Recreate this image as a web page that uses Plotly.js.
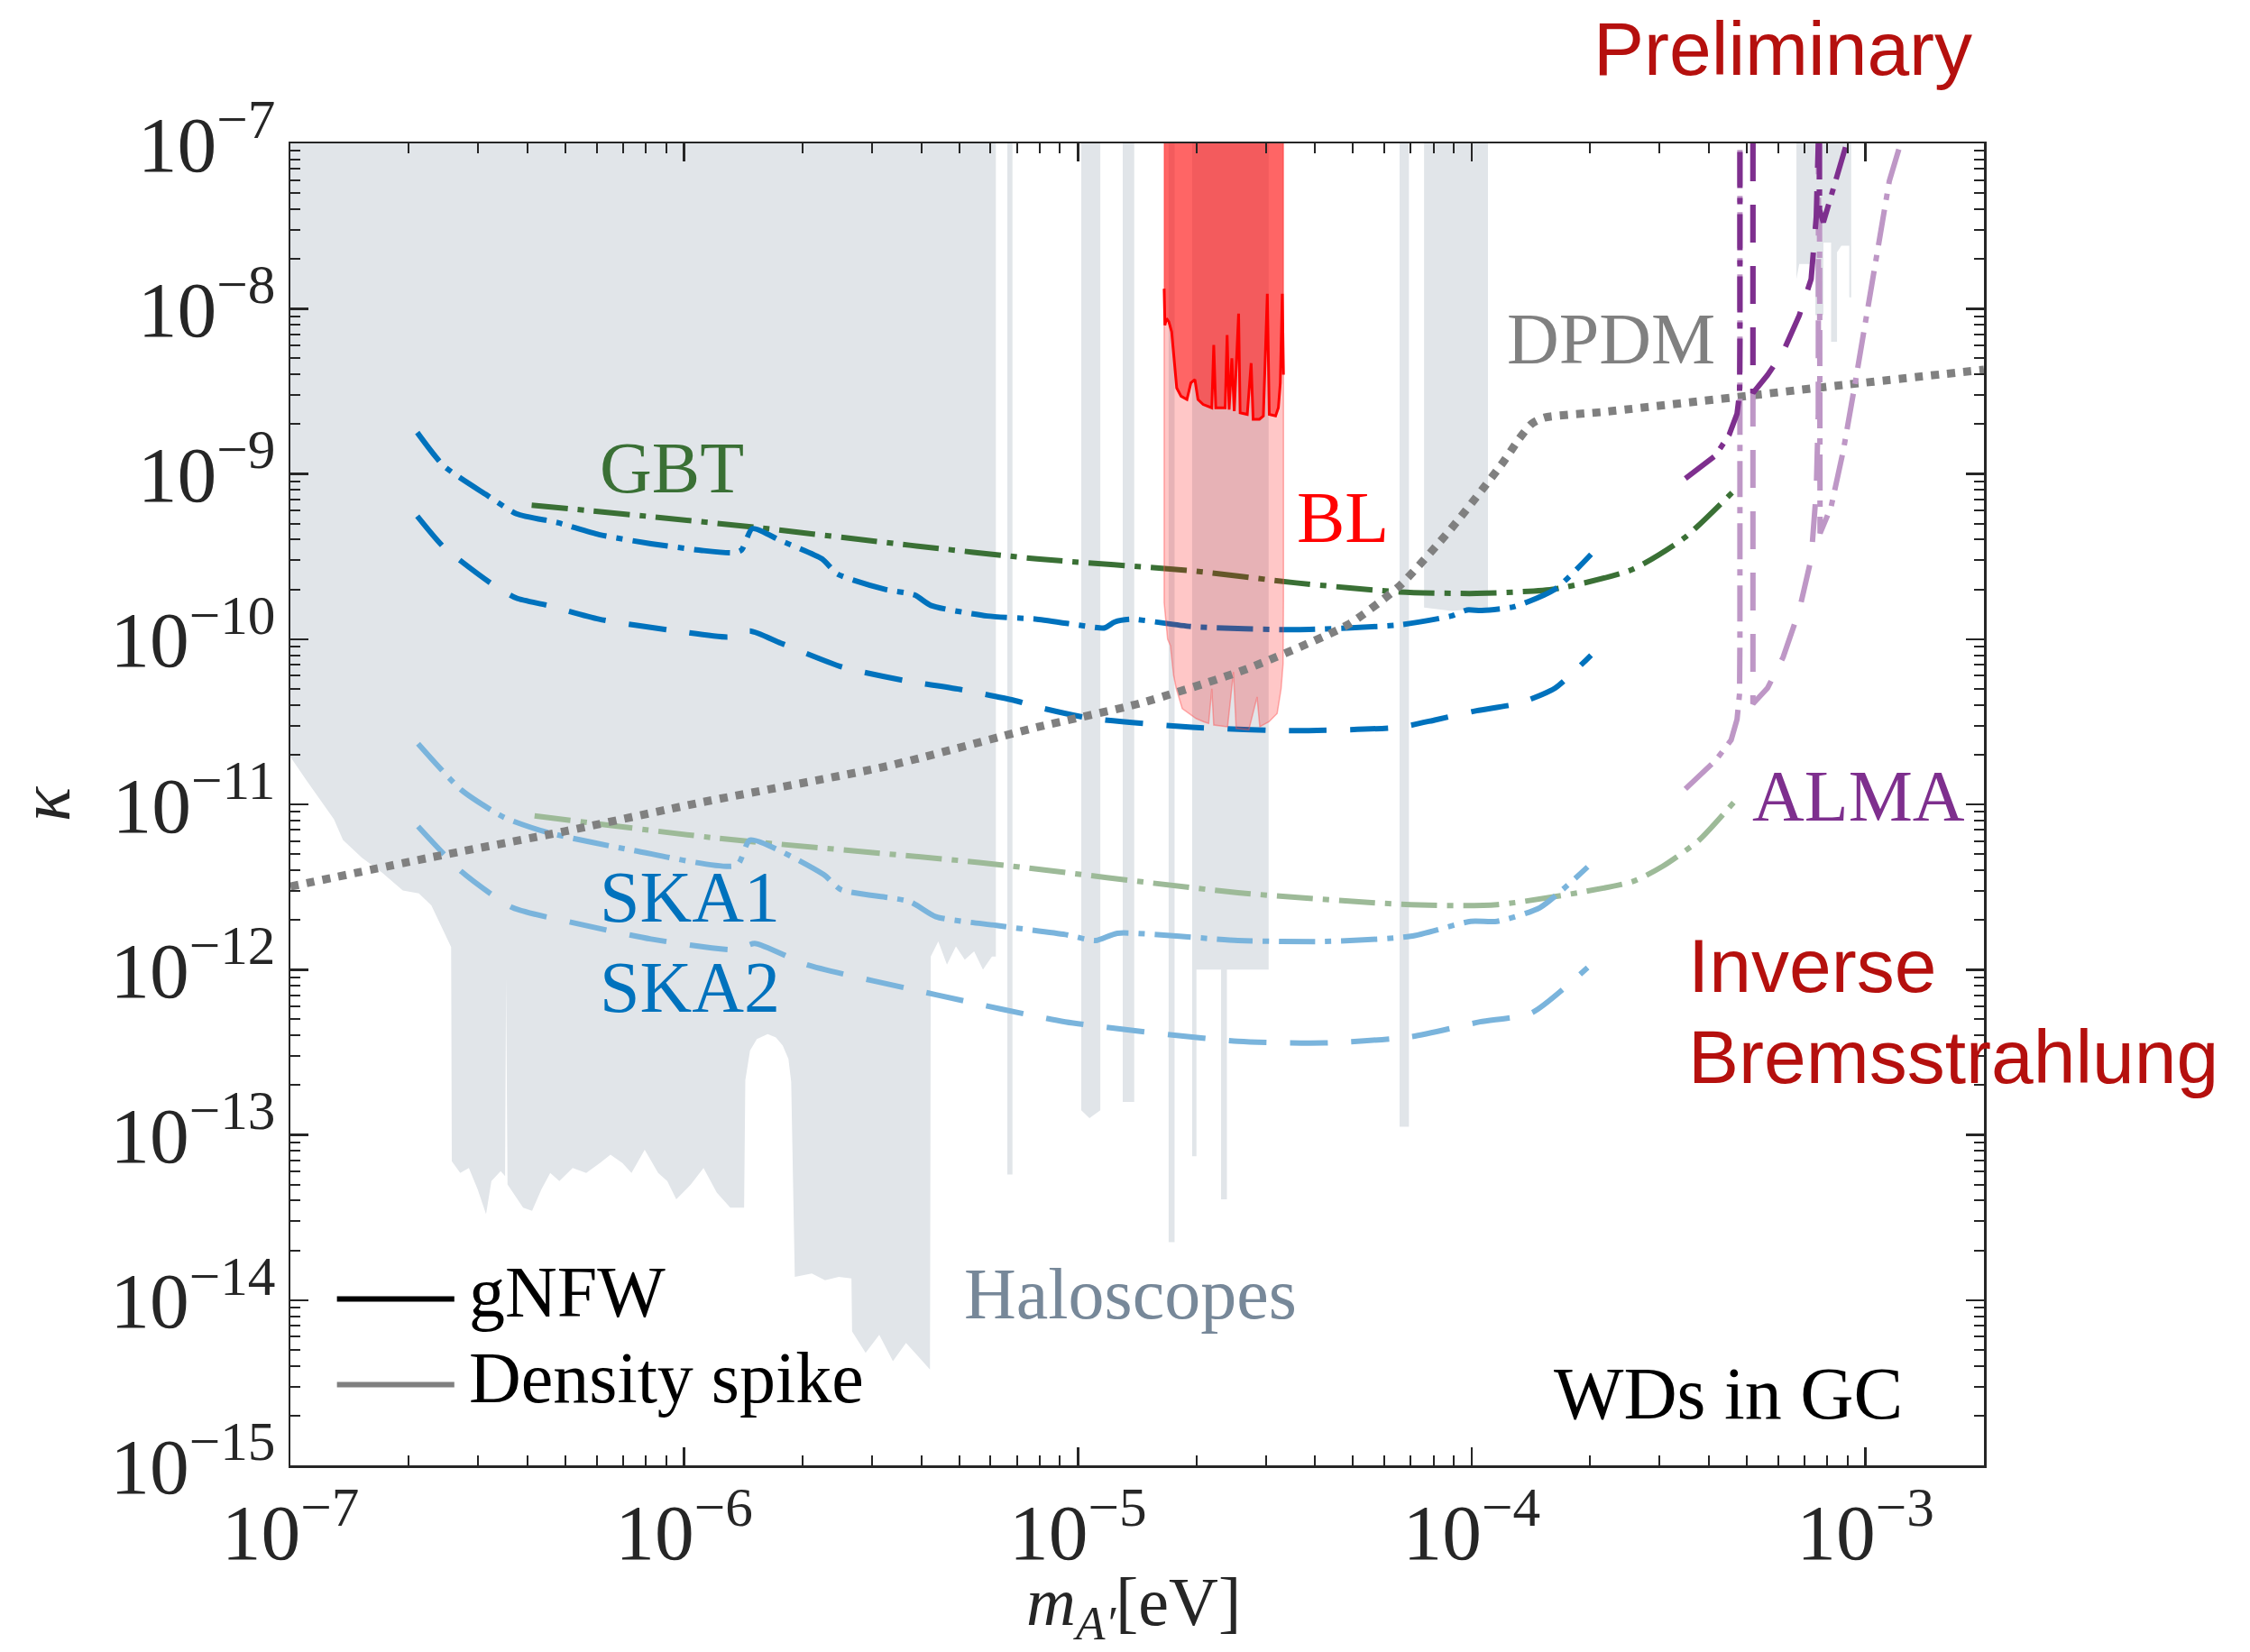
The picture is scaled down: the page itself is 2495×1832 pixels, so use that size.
<!DOCTYPE html>
<html><head><meta charset="utf-8">
<script src="https://cdn.plot.ly/plotly-3.0.1.min.js"></script>
<style>html,body{margin:0;padding:0;background:#fff;} #chart{width:2495px;height:1832px;}</style>
</head><body><div id="chart"></div>
<script>
// ---------------- DATA ----------------
// Haloscope exclusion: lower edge of the grey region (mass [eV], kappa)
const haloMass = [
  1e-7, 1e-7, 1.10e-7, 1.29e-7, 1.36e-7, 1.52e-7, 1.71e-7, 1.93e-7, 2.12e-7, 2.28e-7,
  2.56e-7, 2.57e-7, 2.70e-7, 2.84e-7, 2.99e-7, 3.14e-7, 3.24e-7, 3.42e-7, 3.51e-7, 3.53e-7,
  3.56e-7, 3.90e-7, 4.11e-7, 4.34e-7, 4.57e-7, 4.82e-7, 5.21e-7, 5.64e-7, 6.11e-7, 6.50e-7,
  6.97e-7, 7.35e-7, 7.94e-7, 8.59e-7, 9.06e-7, 9.55e-7, 1.04e-6, 1.12e-6, 1.21e-6, 1.31e-6,
  1.42e-6, 1.43e-6, 1.47e-6, 1.53e-6, 1.63e-6, 1.71e-6, 1.78e-6, 1.84e-6, 1.87e-6, 1.91e-6,
  2.11e-6, 2.28e-6, 2.47e-6, 2.66e-6, 2.67e-6, 2.89e-6, 3.13e-6, 3.39e-6, 3.66e-6, 3.97e-6,
  4.21e-6, 4.23e-6, 4.42e-6, 4.65e-6, 4.90e-6, 5.16e-6, 5.45e-6, 5.74e-6, 6.05e-6, 6.19e-6,
  6.19e-6, 6.62e-6, 6.62e-6, 6.82e-6, 6.82e-6, 1.02e-5, 1.02e-5, 1.07e-5, 1.14e-5, 1.14e-5,
  1.30e-5, 1.30e-5, 1.39e-5, 1.39e-5, 1.70e-5, 1.70e-5, 1.76e-5, 1.76e-5, 1.95e-5, 1.95e-5,
  2.00e-5, 2.00e-5, 2.31e-5, 2.31e-5, 2.39e-5, 2.39e-5, 3.05e-5, 3.05e-5, 6.56e-5, 6.56e-5,
  6.93e-5, 6.93e-5, 7.57e-5, 7.57e-5, 8.91e-5, 1.10e-4, 1.10e-4, 6.68e-4, 6.68e-4, 6.79e-4,
  7.46e-4, 7.46e-4, 7.82e-4, 7.82e-4, 8.18e-4, 8.18e-4, 8.47e-4, 8.47e-4, 8.69e-4, 9.10e-4,
  9.10e-4, 9.20e-4, 9.20e-4
];
const haloKappa = [
  1e-7, 1.94e-11, 1.39e-11, 8.13e-12, 6.08e-12, 4.75e-12, 3.86e-12, 3.01e-12, 2.89e-12, 2.45e-12,
  1.37e-12, 6.92e-14, 5.89e-14, 6.31e-14, 4.68e-14, 3.31e-14, 5.25e-14, 6.03e-14, 5.62e-14, 8.91e-13,
  5.01e-14, 3.63e-14, 3.47e-14, 4.68e-14, 5.89e-14, 5.25e-14, 6.31e-14, 5.89e-14, 6.76e-14, 7.59e-14,
  6.76e-14, 5.89e-14, 8.13e-14, 5.89e-14, 5.25e-14, 4.07e-14, 5.01e-14, 6.31e-14, 4.47e-14, 3.63e-14,
  3.63e-14, 2.14e-13, 3.24e-13, 3.80e-13, 4.07e-13, 3.89e-13, 3.47e-13, 2.88e-13, 2.09e-13, 1.38e-14,
  1.45e-14, 1.32e-14, 1.38e-14, 1.35e-14, 6.46e-15, 4.79e-15, 6.17e-15, 4.27e-15, 5.50e-15, 4.47e-15,
  3.80e-15, 1.20e-12, 1.48e-12, 1.07e-12, 1.38e-12, 1.15e-12, 1.29e-12, 1.00e-12, 1.20e-12, 1.20e-12,
  1e-7, 1e-7, 5.75e-14, 5.75e-14, 1e-7, 1e-7, 1.41e-13, 1.26e-13, 1.41e-13, 1e-7,
  1e-7, 1.58e-13, 1.58e-13, 1e-7, 1e-7, 2.24e-14, 2.24e-14, 1e-7, 1e-7, 7.41e-14,
  7.41e-14, 1e-12, 1e-12, 4.07e-14, 4.07e-14, 1e-12, 1e-12, 1e-7, 1e-7, 1.12e-13,
  1.12e-13, 1e-7, 1e-7, 1.55e-10, 1.48e-10, 1.55e-10, 1e-7, 1e-7, 1.51e-8, 1.86e-8,
  1.86e-8, 9.12e-9, 9.12e-9, 2.51e-8, 2.51e-8, 6.31e-9, 6.31e-9, 2.19e-8, 2.40e-8, 2.40e-8,
  1.17e-8, 1.17e-8, 1e-7
];

// BL: strong (dark red) lower edge and faint (pink) lower edge
const blEdgeMass = [1.656e-5, 1.663e-5, 1.679e-5, 1.702e-5, 1.730e-5, 1.754e-5, 1.782e-5, 1.828e-5, 1.892e-5, 1.936e-5,
  1.982e-5, 2.018e-5, 2.080e-5, 2.188e-5, 2.213e-5, 2.239e-5, 2.366e-5, 2.393e-5, 2.421e-5, 2.460e-5,
  2.495e-5, 2.559e-5, 2.582e-5, 2.692e-5, 2.754e-5, 2.786e-5, 2.891e-5, 2.958e-5, 3.027e-5, 3.062e-5,
  3.177e-5, 3.229e-5, 3.266e-5, 3.304e-5, 3.327e-5];
const blEdgeKappa = [1.32e-8, 7.94e-9, 8.71e-9, 8.32e-9, 7.24e-9, 5.25e-9, 3.31e-9, 2.95e-9, 2.82e-9, 3.55e-9,
  3.72e-9, 2.82e-9, 2.63e-9, 2.51e-9, 6.03e-9, 2.51e-9, 2.51e-9, 6.92e-9, 2.45e-9, 5.01e-9,
  2.40e-9, 9.33e-9, 2.34e-9, 2.29e-9, 4.68e-9, 2.14e-9, 2.14e-9, 2.24e-9, 1.23e-8, 2.29e-9,
  2.24e-9, 2.51e-9, 3.55e-9, 1.23e-8, 3.98e-9];
const blFaintMass = [1.656e-5, 1.690e-5, 1.718e-5, 1.750e-5, 1.778e-5, 1.841e-5, 1.910e-5, 1.995e-5, 2.089e-5, 2.148e-5,
  2.188e-5, 2.213e-5, 2.399e-5, 2.483e-5, 2.523e-5, 2.716e-5, 2.851e-5, 2.897e-5, 3.055e-5, 3.206e-5,
  3.281e-5, 3.319e-5, 3.327e-5];
const blFaintKappa = [1.66e-10, 1.0e-10, 9.12e-11, 6.03e-11, 5.01e-11, 3.80e-11, 3.55e-11, 3.31e-11, 3.16e-11, 3.09e-11,
  5.01e-11, 3.02e-11, 2.95e-11, 6.31e-11, 2.88e-11, 2.82e-11, 4.47e-11, 2.95e-11, 3.16e-11, 3.55e-11,
  5.01e-11, 7.08e-11, 1.70e-10];
const plotTopKappa = 1e-7;

// DPDM line
const dpdmMass = [1e-7, 2.22e-7, 4.98e-7, 1.11e-6, 3.27e-6, 7.87e-6, 1.44e-5, 2.64e-5, 4.84e-5, 6.56e-5,
  8.87e-5, 1.20e-4, 1.32e-4, 1.42e-4, 1.53e-4, 2.20e-4, 9.08e-4, 2.0e-3];
const dpdmKappa = [3.18e-12, 4.72e-12, 6.87e-12, 1.03e-11, 1.70e-11, 2.93e-11, 4.09e-11, 6.50e-11, 1.22e-10, 2.10e-10,
  4.66e-10, 1.17e-9, 1.63e-9, 2.01e-9, 2.19e-9, 2.38e-9, 3.48e-9, 4.27e-9];

// GBT
const gbtMass = [4.10e-7, 8.24e-7, 1.51e-6, 3.74e-6, 7.87e-6, 1.95e-5, 3.58e-5, 6.56e-5, 1.03e-4, 1.63e-4, 2.56e-4, 3.47e-4, 4.62e-4];
const gbtGnfw = [6.46e-10, 5.51e-10, 4.75e-10, 3.70e-10, 3.06e-10, 2.59e-10, 2.19e-10, 1.93e-10, 1.89e-10, 2.01e-10, 2.64e-10, 4.10e-10, 7.85e-10];
const gbtSpikeMass = [4.17e-7, 1.23e-6, 5.61e-6, 2.55e-5, 7.00e-5, 1.16e-4, 2.55e-4, 3.06e-4, 3.78e-4, 4.65e-4];
const gbtSpike = [8.51e-12, 6.22e-12, 4.45e-12, 2.92e-12, 2.47e-12, 2.47e-12, 3.40e-12, 4.23e-12, 6.07e-12, 1.04e-11];

// SKA1 (dash-dot)
const ska1Mass = [2.10e-7, 2.45e-7, 3.13e-7, 3.75e-7, 4.78e-7, 6.08e-7, 8.24e-7, 1.11e-6, 1.34e-6, 1.40e-6,
  1.49e-6, 1.76e-6, 2.24e-6, 2.45e-6, 3.21e-6, 3.85e-6, 4.23e-6, 5.89e-6, 7.87e-6, 1.07e-5,
  1.17e-5, 1.24e-5, 1.36e-5, 1.95e-5, 3.58e-5, 6.56e-5, 8.87e-5, 9.73e-5, 1.06e-4, 1.28e-4,
  1.63e-4, 2.01e-4];
const ska1Gnfw = [1.78e-9, 1.12e-9, 7.53e-10, 5.74e-10, 5.06e-10, 4.29e-10, 3.78e-10, 3.44e-10, 3.33e-10, 3.47e-10,
  4.66e-10, 3.94e-10, 3.06e-10, 2.48e-10, 2.01e-10, 1.85e-10, 1.60e-10, 1.38e-10, 1.32e-10, 1.19e-10,
  1.17e-10, 1.27e-10, 1.32e-10, 1.19e-10, 1.14e-10, 1.22e-10, 1.38e-10, 1.50e-10, 1.49e-10, 1.57e-10,
  2.01e-10, 3.26e-10];
const ska1SpikeMass = [2.11e-7, 2.72e-7, 3.49e-7, 4.50e-7, 7.45e-7, 1.36e-6, 1.47e-6, 2.26e-6, 2.50e-6, 3.74e-6,
  4.36e-6, 6.21e-6, 9.29e-6, 1.11e-5, 1.26e-5, 2.55e-5, 4.23e-5, 7.00e-5, 9.95e-5, 1.16e-4,
  1.49e-4, 1.97e-4];
const ska1Spike = [2.33e-11, 1.22e-11, 8.34e-12, 6.76e-12, 5.26e-12, 4.27e-12, 6.08e-12, 3.76e-12, 3.05e-12, 2.58e-12,
  2.09e-12, 1.85e-12, 1.63e-12, 1.50e-12, 1.66e-12, 1.50e-12, 1.48e-12, 1.59e-12, 1.96e-12, 1.96e-12,
  2.37e-12, 4.18e-12];

// SKA2 (dashed)
const ska2Mass = [2.10e-7, 2.45e-7, 3.22e-7, 3.75e-7, 4.50e-7, 6.08e-7, 9.29e-7, 1.30e-6, 1.47e-6, 1.76e-6,
  2.52e-6, 3.63e-6, 5.07e-6, 6.86e-6, 7.87e-6, 1.07e-5, 1.95e-5, 3.58e-5, 6.56e-5, 8.11e-5,
  1.03e-4, 1.32e-4, 1.63e-4, 2.01e-4];
const ska2Gnfw = [5.55e-10, 3.61e-10, 2.19e-10, 1.77e-10, 1.60e-10, 1.32e-10, 1.13e-10, 1.03e-10, 1.12e-10, 9.46e-11,
  6.78e-11, 5.61e-11, 4.94e-11, 4.27e-11, 3.89e-11, 3.32e-11, 2.93e-11, 2.79e-11, 2.93e-11, 3.25e-11,
  3.69e-11, 4.09e-11, 5.06e-11, 8.00e-11];
const ska2SpikeMass = [2.11e-7, 2.72e-7, 3.67e-7, 5.24e-7, 8.24e-7, 1.36e-6, 1.51e-6, 2.05e-6, 4.36e-6, 9.29e-6,
  2.55e-5, 4.23e-5, 7.00e-5, 1.05e-4, 1.42e-4, 1.97e-4];
const ska2Spike = [7.35e-12, 3.92e-12, 2.37e-12, 1.92e-12, 1.53e-12, 1.32e-12, 1.44e-12, 1.07e-12, 7.05e-13, 4.83e-13,
  3.68e-13, 3.60e-13, 3.92e-13, 4.83e-13, 5.47e-13, 1.03e-12];

// ALMA
const almaDDMassA = [3.49e-4, 4.16e-4, 4.51e-4, 4.72e-4, 4.79e-4, 4.80e-4, 4.80e-4];
const almaDDGnfwA = [9.38e-10, 1.29e-9, 1.73e-9, 2.31e-9, 3.08e-9, 6.31e-9, 1e-7];
const almaDDSpikeMassA = [3.49e-4, 4.16e-4, 4.56e-4, 4.72e-4, 4.79e-4, 4.80e-4, 4.80e-4];
const almaDDSpikeA = [1.24e-11, 1.84e-11, 2.45e-11, 3.27e-11, 4.69e-11, 1.0e-10, 1e-7];
const almaDDMassB = [7.64e-4, 7.64e-4, 7.82e-4, 8.18e-4, 8.59e-4, 8.90e-4];
const almaDDGnfwB = [1e-7, 3.98e-8, 3.33e-8, 4.79e-8, 6.85e-8, 9.48e-8];
const almaDDSpikeMassB = [7.64e-4, 7.64e-4, 7.67e-4, 8.18e-4, 8.79e-4, 9.42e-4, 1.01e-3, 1.08e-3, 1.15e-3, 1.22e-3];
const almaDDSpikeB = [1e-7, 5.01e-10, 4.37e-10, 6.30e-10, 1.39e-9, 3.56e-9, 9.77e-9, 2.49e-8, 5.93e-8, 9.48e-8];
const almaDashMass = [5.18e-4, 5.18e-4, 5.64e-4, 6.18e-4, 6.79e-4, 7.28e-4, 7.50e-4, 7.59e-4];
const almaDashGnfw = [1e-7, 3.08e-9, 3.96e-9, 5.48e-9, 9.08e-9, 1.51e-8, 3.58e-8, 1e-7];
const almaDashSpikeMass = [5.18e-4, 5.18e-4, 5.64e-4, 6.18e-4, 6.79e-4, 7.28e-4, 7.50e-4, 7.59e-4, 7.60e-4];
const almaDashSpike = [1e-7, 4.06e-11, 5.05e-11, 7.78e-11, 1.49e-10, 3.06e-10, 7.82e-10, 2.31e-9, 1e-7];

// ---------------- STYLE ----------------
const BLUE = '#0072BD', BLUE_L = '#7ab4dc';
const GREEN = '#3a7035', GREEN_L = '#9dba98';
const PURPLE = '#7E2F8E', PURPLE_L = '#be97c6';
const DASHDOT = '40px,11px,7px,11px';
const DASHED = '42px,26px';
const SERIF = 'Liberation Serif';
const SANS = 'Liberation Sans';

function line(x, y, color, dash, width, shape) {
  return {x: x, y: y, type: 'scatter', mode: 'lines', hoverinfo: 'skip', showlegend: false,
    line: {color: color, dash: dash, width: width || 6, shape: shape || 'linear', smoothing: 0.6}};
}
function closedTop(xs, ys) {
  return {x: [xs[0]].concat(xs, [xs[xs.length - 1]]), y: [plotTopKappa].concat(ys, [plotTopKappa])};
}

const traces = [];
// haloscopes
traces.push({x: haloMass, y: haloKappa, type: 'scatter', mode: 'lines', fill: 'toself',
  fillcolor: '#e1e5e9', line: {width: 0, color: 'rgba(0,0,0,0)'}, hoverinfo: 'skip', showlegend: false});
// density spike (light) curves
traces.push(line(gbtSpikeMass, gbtSpike, GREEN_L, DASHDOT, 6, 'spline'));
traces.push(line(ska1SpikeMass, ska1Spike, BLUE_L, DASHDOT, 6, 'spline'));
traces.push(line(ska2SpikeMass, ska2Spike, BLUE_L, DASHED, 6, 'spline'));
// gNFW (dark) curves
traces.push(line(gbtMass, gbtGnfw, GREEN, DASHDOT, 6, 'spline'));
traces.push(line(ska1Mass, ska1Gnfw, BLUE, DASHDOT, 6, 'spline'));
traces.push(line(ska2Mass, ska2Gnfw, BLUE, DASHED, 6, 'spline'));
// BL regions
const faint = closedTop(blFaintMass, blFaintKappa);
traces.push({x: faint.x, y: faint.y, type: 'scatter', mode: 'lines', fill: 'toself',
  fillcolor: 'rgba(255,0,0,0.22)', line: {width: 1.5, color: 'rgba(255,80,80,0.45)'}, hoverinfo: 'skip', showlegend: false});
const strong = closedTop(blEdgeMass, blEdgeKappa);
traces.push({x: strong.x, y: strong.y, type: 'scatter', mode: 'lines', fill: 'toself',
  fillcolor: 'rgba(255,0,0,0.49)', line: {width: 0, color: 'rgba(0,0,0,0)'}, hoverinfo: 'skip', showlegend: false});
traces.push(line(blEdgeMass, blEdgeKappa, '#ff0000', 'solid', 3));
// DPDM
traces.push(line(dpdmMass, dpdmKappa, '#808080', '9px,9px', 9, 'spline'));
// ALMA
traces.push(line(almaDDSpikeMassA, almaDDSpikeA, PURPLE_L, DASHDOT, 6));
traces.push(line(almaDDSpikeMassB, almaDDSpikeB, PURPLE_L, DASHDOT, 6));
traces.push(line(almaDashSpikeMass, almaDashSpike, PURPLE_L, DASHED, 6));
traces.push(line(almaDDMassA, almaDDGnfwA, PURPLE, DASHDOT, 6));
traces.push(line(almaDDMassB, almaDDGnfwB, PURPLE, DASHDOT, 6));
traces.push(line(almaDashMass, almaDashGnfw, PURPLE, DASHED, 6));

const AX = '#262626';
function label(text, x, y, color, size, family, xanchor, yanchor) {
  return {text: text, x: x, y: y, xref: 'paper', yref: 'paper', showarrow: false, borderpad: 0,
    xanchor: xanchor || 'left', yanchor: yanchor || 'middle', font: {family: family || SERIF, size: size || 80, color: color}};
}
const annotations = [
  label('GBT', 0.1821, 0.7546, GREEN),
  label('BL', 0.5937, 0.7171, '#ff0000'),
  label('DPDM', 0.7178, 0.8522, '#808080'),
  label('SKA1', 0.1821, 0.4295, BLUE),
  label('SKA2', 0.1821, 0.3616, BLUE),
  label('Haloscopes', 0.3972, 0.1296, '#778899'),
  label('ALMA', 0.8626, 0.5059, PURPLE),
  label('WDs in GC', 0.9526, 0.0543, '#000000', 82, SERIF, 'right'),
  label('gNFW', 0.1049, 0.1310, '#000000'),
  label('Density spike', 0.1049, 0.0662, '#000000'),
  label('Preliminary', 0.7689, 1.0716, '#b5100e', 84, SANS),
  label('Inverse', 0.8248, 0.378, '#b5100e', 84, SANS),
  label('Bremsstrahlung', 0.8248, 0.3093, '#b5100e', 84, SANS),
  // x-axis title
  label('<i>m</i><sub><i>A′</i></sub>[eV]', 0.4978, -0.0735, AX, 76, SERIF, 'center', 'top')
];
const shapes = [
  {type: 'line', xref: 'paper', yref: 'paper', x0: 0.0275, x1: 0.0968, y0: 0.1259, y1: 0.1259, line: {color: '#000000', width: 6}},
  {type: 'line', xref: 'paper', yref: 'paper', x0: 0.0275, x1: 0.0968, y0: 0.0610, y1: 0.0610, line: {color: '#808080', width: 6}}
];

const axisCommon = {
  type: 'log', dtick: 1, exponentformat: 'power', showgrid: false, zeroline: false,
  ticks: 'inside', ticklen: 20, tickwidth: 2.5, tickcolor: AX,
  showline: true, linecolor: AX, linewidth: 2.5, mirror: 'allticks',
  tickfont: {family: SERIF, size: 70, color: AX},
  minor: {ticks: 'inside', ticklen: 11, tickwidth: 2, tickcolor: AX, dtick: 'D1', showgrid: false}
};
const layout = {
  width: 2495, height: 1832,
  margin: {l: 322, r: 295, t: 159, b: 207, pad: 0},
  paper_bgcolor: '#ffffff', plot_bgcolor: '#ffffff',
  showlegend: false, hovermode: false,
  font: {family: SERIF, size: 70, color: AX},
  xaxis: Object.assign({}, axisCommon, {
    range: [-7, Math.log10(2e-3)]
  }),
  yaxis: Object.assign({}, axisCommon, {
    range: [-15, -7],
    title: {text: '<i>κ</i>', font: {family: SERIF, size: 80, color: AX}, standoff: 18}
  }),
  annotations: annotations,
  shapes: shapes
};
Plotly.newPlot('chart', traces, layout, {staticPlot: true, displayModeBar: false});
</script></body></html>
